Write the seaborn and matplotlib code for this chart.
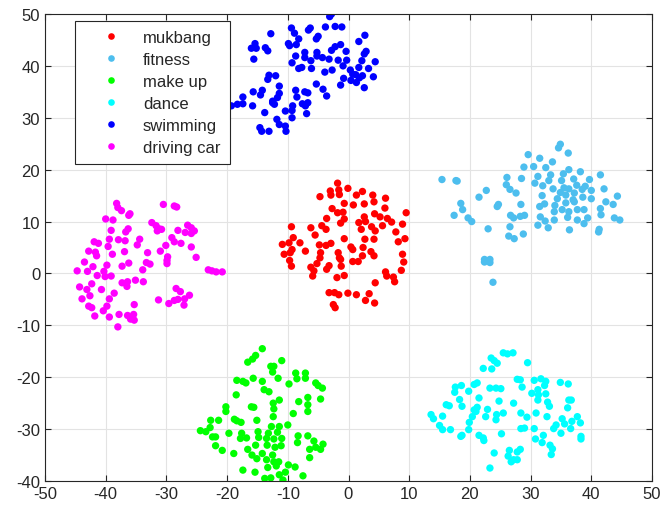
import pandas as pd
import matplotlib
matplotlib.use('Agg')
import matplotlib.pyplot as plt
import seaborn as sns

# points, (x, y) per cluster
mukbang = [(-1.8, 17.4), (-3, 15.9), (-2.9, 15.1), (-1.6, 16.1), (-1.5, 15.2), (-0.1, 16.4), (-4.7, 14.8),
           (1.3, 15.1), (2.3, 15.8), (4, 15.1), (6.1, 14.5), (4.2, 13.8), (-0.7, 13.5), (0.8, 13.2), (2.6, 13.4),
           (-2.7, 12.5), (-1.8, 11.7), (-0.9, 11.8), (6, 12.6), (-3.6, 10.6), (-0.7, 10.5), (-1.3, 9.7),
           (2.6, 10.9), (4.3, 11.5), (5.2, 10.9), (6.4, 10.6), (9.5, 11.7), (1.7, 9.8), (2.8, 10), (3.8, 9),
           (4.4, 8.2), (5.6, 9.2), (7.1, 9.9), (8.9, 9.5), (7.8, 8), (9.3, 6.7), (-9.4, 9), (-6.2, 8.8),
           (-4.4, 9.2), (-3.7, 8.5), (-5.5, 7.4), (2.1, 8.5), (-0.7, 6.7), (-9.1, 6.9), (-9.8, 5.9), (-8, 5.9),
           (-10.9, 5.6), (2.7, 6.6), (4.2, 6.6), (8.2, 6.1), (-4.8, 5.5), (-3.7, 5.4), (-2.9, 5.8), (-9.3, 4.6),
           (-9.6, 4), (-10.6, 3.7), (-7.1, 4.3), (0.4, 5.1), (0.7, 4.6), (2.4, 5), (-4.6, 4), (-4.7, 3),
           (-1.7, 4), (3.7, 4.2), (4.2, 3.4), (2.3, 3.4), (-1.5, 3), (-1.3, 2.7), (-9.7, 2.5), (-9.4, 1.4),
           (-5.2, 1.9), (-6.2, 1.2), (-5.7, 0.5), (-5.9, -0.5), (-3.2, 1.5), (-3.6, 0.8), (-1.2, 1.4),
           (0.7, 2.3), (1.6, 2.3), (8.9, 3.7), (9.1, 2.2), (8.7, 0.6), (6.1, 0.3), (6.3, -0.5), (7.4, -0.7),
           (7.6, -1.6), (-0.7, -0.4), (-1.9, -0.8), (4.4, -1.8), (-3.2, -3.7), (-2.3, -3.7), (-1.6, -4.1),
           (-0.1, -3.8), (1.3, -4.1), (3.4, -3.9), (2.8, -5.2), (4.3, -5.7), (-2.5, -6), (-2.2, -6.6)]

fitness = [(34.9, 24.9), (34.6, 24.2), (36.2, 23.2), (29.6, 22.9), (31.5, 22.2), (33.6, 21.5), (32.5, 20.4),
           (28.9, 20.5), (30.5, 20.6), (15.4, 18.1), (17.7, 17.9), (17.9, 17.8), (26.1, 18.5), (28.5, 18.3),
           (31.2, 18.7), (33.3, 19), (35.4, 19.2), (36.3, 20), (38.2, 19.6), (41.5, 19), (26, 17.1),
           (26.6, 16.2), (27.6, 15.5), (30.7, 17.4), (32, 16.9), (33, 17.9), (35.1, 17.9), (37.1, 18.2),
           (39, 16.8), (39.7, 18.1), (33.7, 16.3), (35.5, 16.5), (36.3, 16.3), (37.6, 17), (38.5, 16.2),
           (40, 16), (42.1, 16.3), (44.3, 14.9), (34.9, 15.6), (35.8, 15.1), (37.2, 15.5), (34.4, 14.4),
           (37, 14.2), (38.6, 14.7), (40, 14.4), (22.7, 16), (21.5, 14.7), (31.9, 15), (35.8, 13.6),
           (37.2, 13.8), (42.4, 13.8), (43.6, 13.3), (18.5, 13.5), (18.8, 12.3), (24.7, 13.3), (24.5, 12.9),
           (28.4, 13.3), (32.3, 13.4), (31.5, 12.9), (34, 13.1), (17.4, 11.2), (19.7, 10.7), (20.3, 10),
           (26.7, 11.2), (27.2, 10.7), (28.3, 11), (29, 11.2), (31.6, 10.9), (33.9, 11.9), (35.2, 12.3),
           (36.3, 11.9), (37.7, 12.3), (38.8, 12.3), (41.5, 12.5), (41.6, 11.3), (32.4, 10.1), (33.9, 10.3),
           (36.1, 10.8), (37.7, 10.3), (39.4, 10.7), (38.8, 9.6), (43.8, 10.7), (44.7, 10.3), (31.2, 9.3),
           (32.9, 8.8), (23, 8.6), (26.6, 9), (36.4, 8.4), (41.3, 8.5), (41.2, 8), (26.4, 7.2), (27.3, 6.7),
           (28.8, 7.6), (22.4, 2.7), (22.4, 2.2), (23.3, 2.7), (23.3, 2.1), (23.8, -1.7)]

make_up = [(-14.2, -14.5), (-15.3, -15.8), (-15.8, -16.5), (-16.6, -17.1), (-11, -16.8), (-12.8, -17.9),
           (-12.3, -17.9), (-12.5, -19), (-8.7, -19.2), (-7.1, -19.2), (-8.5, -20.3), (-7.1, -20.2),
           (-18.4, -20.6), (-17.4, -20.8), (-16.9, -21.1), (-15.7, -20.2), (-14.2, -20.8), (-11.6, -20.2),
           (-9.8, -21.3), (-5.4, -21.1), (-5, -21.6), (-4.3, -22.1), (-13.9, -22.4), (-13.1, -22.8),
           (-18.5, -23.4), (-6.7, -23.9), (-8.2, -24.7), (-6.7, -25.3), (-6.7, -26.6), (-4.6, -24.2),
           (-11.4, -24.4), (-12.4, -25), (-20.2, -25.7), (-20.2, -26.6), (-16, -25.7), (-15.6, -25.8),
           (-12.3, -26.1), (-9.1, -27), (-12.4, -27.6), (-18.8, -28.1), (-18.4, -28.4), (-17.7, -28.7),
           (-15.1, -28.3), (-22.7, -28.3), (-21.4, -28.3), (-22.8, -29.7), (-24.4, -30.3), (-23.5, -30.5),
           (-12.7, -29.5), (-11.4, -29.5), (-10, -29.2), (-19.7, -30.8), (-17.6, -30.8), (-14.9, -30.5),
           (-13.2, -30.8), (-11.7, -30.6), (-22.4, -31.5), (-21.9, -31.5), (-17.8, -31.8), (-16.8, -31.7),
           (-14.8, -31.6), (-13.5, -31.8), (-12.3, -31.9), (-11, -31.8), (-8.3, -31.3), (-6.7, -31.3),
           (-5.7, -32.3), (-4.2, -32.9), (-4.6, -33.9), (-5.4, -33.5), (-6.4, -33.9), (-8.4, -32.6),
           (-15.3, -33.1), (-13.4, -33.1), (-12.1, -33.5), (-11.1, -33.2), (-21.9, -33.2), (-20.8, -34.1),
           (-16.6, -33.9), (-14.2, -34.7), (-12.5, -35), (-18.9, -34.7), (-15.9, -35), (-15.1, -35.7),
           (-6.4, -35.5), (-13.5, -35.9), (-12.3, -36.3), (-11.5, -36.3), (-11.9, -37.1), (-13.3, -37.4),
           (-9.9, -36.9), (-8.8, -37.3), (-17.4, -37.9), (-15.4, -38.3), (-10.4, -38.3), (-11.4, -38.8),
           (-7.5, -39), (-13.8, -39.5), (-12.8, -39.4), (-10.8, -39.8)]

dance = [(25.5, -15.3), (26.2, -15.5), (27.1, -15.3), (23.5, -16.3), (24, -16.8), (24.5, -17.3), (29.5, -17.2),
         (22.2, -18.3), (23.6, -18.4), (27.8, -20.4), (28.3, -20.5), (30.6, -20.6), (31.7, -20.3),
         (32.5, -20.8), (32.3, -21.6), (34.9, -21), (36.2, -21.3), (18.6, -21.6), (17.6, -21.9), (17.5, -22.9),
         (20.7, -21.4), (21.2, -21.1), (23.3, -22.1), (24.3, -22.1), (25.1, -22.2), (19.8, -22.7),
         (28.6, -21.9), (30.2, -23.1), (31.2, -22.4), (31.3, -23.4), (32.5, -23.2), (36.3, -24.4),
         (36.7, -24.4), (18.3, -24.3), (21.5, -24), (31.2, -24.4), (32.8, -24.8), (33.1, -25.6), (24.8, -24.6),
         (27.2, -25), (36.1, -25.9), (16.1, -25.3), (16.6, -25.5), (18.7, -25.6), (20.7, -26.3), (21.2, -25.8),
         (21, -26.6), (22.9, -26.2), (25.5, -26.9), (13.6, -27.2), (14, -28), (15.5, -27.5), (20.4, -27.6),
         (22.6, -27.6), (24.4, -27.2), (24.3, -28.2), (28.4, -26.9), (29.4, -27.7), (30.9, -26.9),
         (32.7, -27.6), (35.2, -28), (35.6, -29), (36.8, -28.5), (37.7, -27.6), (38.2, -28.8), (34.2, -29.2),
         (33.8, -29.9), (19.9, -28.7), (15, -29.3), (15.5, -30.1), (16.8, -30.1), (19.8, -30.1), (28.4, -29.9),
         (29, -29.8), (30.6, -29.9), (36.6, -29.9), (35, -30.8), (18.5, -31.4), (18.7, -31.2), (21.5, -31.2),
         (22.2, -31.7), (22.3, -32.2), (25.2, -30.9), (32.1, -31.2), (30.8, -31.9), (31.9, -32.6),
         (38.3, -31.4), (38.3, -31.9), (33.2, -33.1), (33.6, -33.8), (33.4, -34.9), (28.3, -33.9),
         (27.8, -34.4), (26.5, -34.1), (24, -34.6), (26.3, -35.2), (27.2, -35.9), (27.8, -35.9), (26.8, -36.3),
         (23.3, -37.5)]

swimming = [(-2.8, 50), (-3.1, 49.5), (-3.8, 47.5), (-2.2, 47.6), (-1.1, 47.5), (-6.6, 46.9), (-6.3, 47.3),
            (-9.4, 47.3), (-8.9, 46.3), (-12.8, 46.2), (-8.2, 45.2), (-9.9, 44.3), (-9.7, 43.9), (-8.6, 44.1),
            (-5, 45.7), (-5.3, 45.2), (2.7, 45.9), (1.7, 44.7), (-15.4, 44.3), (-16, 43.4), (-15.2, 43.4),
            (-15.6, 41.3), (-13.7, 43.5), (-13.3, 42.9), (-1.3, 44.1), (-2.2, 43.7), (-2.8, 43), (-0.4, 42.8),
            (2.9, 42.8), (2.6, 42.3), (-7.2, 42.6), (-7.2, 41.6), (-8.7, 41.9), (-5.2, 42.6), (-5.2, 41.9),
            (-4.3, 41.6), (-3.2, 41.3), (-1.7, 41.1), (-0.3, 41.1), (-6.2, 41), (-9.3, 40.6), (2.2, 41),
            (4.4, 40.8), (-0.9, 40), (-8.2, 39.5), (-7.7, 39.7), (-6.1, 39.5), (-2.7, 39.2), (-3.9, 38.8),
            (0.3, 39.2), (1.7, 39.7), (3.3, 39.5), (0.7, 38.4), (1.2, 38.3), (1.8, 37.7), (2.3, 38.1),
            (-0.8, 37.6), (0.4, 37.2), (1.3, 36.8), (4.1, 37.9), (2.6, 35.8), (-1.3, 36.3), (-13.1, 38.2),
            (-12, 38.1), (-13.3, 37.4), (-11.4, 36.1), (-5.3, 36.5), (-4.2, 35.5), (-3.6, 34.2), (-8.7, 35.3),
            (-7.2, 35), (-6.7, 34.8), (-8.5, 34), (-15.7, 35), (-14.2, 35.3), (-14.5, 34.4), (-17.4, 34),
            (-11.4, 34.7), (-11.7, 33.9), (-12.5, 33.2), (-12.2, 32.6), (-12.5, 32.9), (-19.3, 32.3),
            (-18.3, 32.6), (-17.4, 32.7), (-15.8, 32.3), (-6.7, 32.9), (-7.6, 32.7), (-7.1, 32.3), (-9.2, 32.3),
            (-10.4, 31.3), (-9.3, 31.4), (-13.8, 31), (-6.9, 30.8), (-9.3, 30), (-11.8, 29.7), (-11.4, 28.7),
            (-10.4, 28.4), (-14.6, 28.1), (-14.3, 27.4), (-13.1, 27.4), (-10.3, 27.4)]

driving_car = [(-38.2, 13.5), (-38, 12.7), (-37.4, 12.1), (-36, 11.5), (-36.2, 11.2), (-30.5, 13.3), (-28.7, 13),
               (-28.3, 12.8), (-40, 10.5), (-38.8, 10.3), (-32.4, 9.8), (-31.7, 9.2), (-31.2, 8.6), (-30.8, 8.5),
               (-31.5, 8.2), (-26.5, 9.3), (-25.9, 8.8), (-25.4, 8.2), (-25.9, 7.7), (-26.9, 7.9), (-28.1, 8.3),
               (-39.1, 8.3), (-36.7, 8), (-36.3, 8.6), (-41.9, 6.1), (-41.2, 5.8), (-39.4, 6.6), (-37.9, 6.5),
               (-36.8, 6.3), (-34.4, 6.6), (-34.8, 5.5), (-29.1, 6.9), (-28.7, 6.1), (-27.6, 5.8), (-25.9, 5.1),
               (-42.8, 4.3), (-41.7, 4.1), (-41.5, 3.4), (-39.6, 5.2), (-38.9, 3.7), (-36.9, 4.2), (-33.1, 4),
               (-31, 4.3), (-30.1, 5.4), (-25.1, 3.1), (-29.8, 3.2), (-29.9, 2.5), (-29.9, 1.9), (-43.5, 2.2),
               (-42.1, 1.3), (-39.8, 1.6), (-37.3, 1.4), (-36.2, 2), (-33.3, 2.1), (-32.7, 1.8), (-33.9, 0.7),
               (-44.7, 0.5), (-43, 0.4), (-40.3, 0.4), (-41.4, -0.4), (-40.1, -0.6), (-39.1, -0.5), (-23.1, 0.7),
               (-22.5, 0.5), (-21.8, 0.3), (-20.8, 0.3), (-37.3, -1.8), (-36.4, -1.6), (-36.5, -2.5),
               (-35.1, -1.3), (-33.8, -1.6), (-42.3, -2), (-44.3, -2.6), (-43.1, -3.1), (-40.7, -3.1),
               (-42.6, -4.3), (-43.9, -4.9), (-39.4, -4.9), (-38.6, -3.8), (-28.4, -2.9), (-27.7, -3.5),
               (-28.1, -5), (-28.7, -5.2), (-27, -4.9), (-26.2, -4.2), (-27.1, -6.1), (-29.6, -5.8),
               (-31.3, -5.1), (-42.8, -6.3), (-42.3, -6.6), (-39.8, -6.3), (-40.4, -7.2), (-41.8, -8.2),
               (-35.3, -6), (-37.8, -7.9), (-36.4, -8.1), (-35.4, -7.9), (-35.9, -8.8), (-35.3, -9),
               (-39.4, -8.4), (-38, -10.3)]

labels = ['mukbang', 'fitness', 'make up', 'dance', 'swimming', 'driving car']
colors = ['#FF0000', '#4DBEEE', '#00FF00', '#00FFFF', '#0000FF', '#FF00FF']
groups = [mukbang, fitness, make_up, dance, swimming, driving_car]

rows = []
for name, pts in zip(labels, groups):
    for x, y in pts:
        rows.append({'x': x, 'y': y, 'activity': name})
df = pd.DataFrame(rows)

sns.set_style('whitegrid')
plt.rcParams['font.family'] = ['Liberation Sans', 'DejaVu Sans']
plt.rcParams['axes.unicode_minus'] = False

fig = plt.figure(figsize=(6.65, 5.1), dpi=100)
ax = fig.add_axes([45 / 665, 28 / 510, 607 / 665, 467 / 510])

sns.scatterplot(data=df, x='x', y='y', hue='activity', hue_order=labels,
                palette=dict(zip(labels, colors)), s=28, edgecolor='none',
                linewidth=0, ax=ax, legend=True)

ax.set_xlim(-50, 50)
ax.set_ylim(-40, 50)
ax.set_xticks(range(-50, 51, 10))
ax.set_yticks(range(-40, 51, 10))
ax.set_xlabel('')
ax.set_ylabel('')
ax.grid(True, color='#e3e3e3', linewidth=0.8)
ax.tick_params(direction='in', length=4, width=0.8, colors='#262626',
               labelsize=12, top=True, right=True, bottom=True, left=True)
for sp in ax.spines.values():
    sp.set_visible(True)
    sp.set_color('#262626')
    sp.set_linewidth(0.8)

leg = ax.legend(loc='upper left', bbox_to_anchor=(0.049, 0.985), frameon=True,
                fancybox=False, edgecolor='#262626', fontsize=12, markerscale=0.9,
                handletextpad=0.25, labelspacing=0.42, borderpad=0.55, borderaxespad=0,
                handlelength=3.3)
leg.get_frame().set_linewidth(0.8)
leg.get_frame().set_alpha(1)

fig.savefig('out.png', dpi=100)
